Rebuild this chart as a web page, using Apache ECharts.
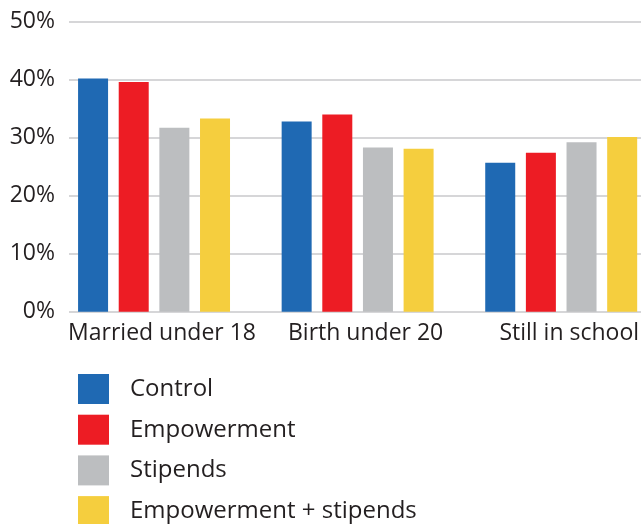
<!DOCTYPE html>
<html>
<head>
<meta charset="utf-8">
<script src="https://cdn.jsdelivr.net/npm/echarts@6/dist/echarts.min.js"></script>
<style>
html,body{margin:0;padding:0;background:#fff;overflow:hidden;width:641px;height:524px;}
#chart{width:663px;height:524px;}
</style>
</head>
<body>
<div id="chart"></div>
<script>
const categories = ['Married under 18', 'Birth under 20', 'Still in school'];
const seriesNames = ['Control', 'Empowerment', 'Stipends', 'Empowerment + stipends'];
const control = [40.2, 32.8, 25.7];
const empowerment = [39.6, 34.0, 27.4];
const stipends = [31.7, 28.3, 29.2];
const empStipends = [33.3, 28.1, 30.1];
const yTicks = [0, 10, 20, 30, 40, 50];
const colors = ['#1f69b3', '#ed1c24', '#bcbec0', '#f5ce3e'];

const values = [control, empowerment, stipends, empStipends];
const txt = '#231f20';
const font = '"Open Sans", "Noto Sans", sans-serif';

const chart = echarts.init(document.getElementById('chart'), null, {renderer: 'canvas'});
chart.setOption({
  animation: false,
  backgroundColor: '#fff',
  legend: {
    orient: 'vertical',
    left: 78,
    top: 374,
    height: 200,
    padding: 0,
    itemWidth: 31,
    itemHeight: 30,
    itemGap: 10.7,
    icon: 'rect',
    data: seriesNames,
    textStyle: {fontFamily: font, fontSize: 24, color: txt, padding: [0, 0, 0, 16]}
  },
  grid: [
    {left: 52.25, right: 0, top: 21.7, height: 290, containLabel: false},
    {left: 69, right: 22, top: 21.7, height: 290, containLabel: false}
  ],
  xAxis: [
    {
      type: 'category', gridIndex: 0, data: categories,
      axisLine: {show: false}, axisTick: {show: false},
      axisLabel: {fontFamily: font, fontSize: 23, color: txt, margin: 10, padding: [0, 0, 0, 16], interval: 0}
    },
    {type: 'value', gridIndex: 1, show: false, min: 0, max: 1}
  ],
  yAxis: [
    {type: 'value', gridIndex: 0, min: 0, max: 50, interval: 10, show: false},
    {
      type: 'value', gridIndex: 1, min: yTicks[0], max: yTicks[yTicks.length - 1], interval: 10,
      axisLine: {show: false}, axisTick: {show: false},
      splitLine: {lineStyle: {color: '#c8c9cb', width: 1.5}},
      axisLabel: {fontFamily: font, fontSize: 23, color: txt, margin: 14, formatter: v => v + '%'}
    }
  ],
  series: seriesNames.map((n, i) => ({
    name: n, type: 'bar', xAxisIndex: 0, yAxisIndex: 0,
    data: values[i], barWidth: 30, barGap: '35.5%',
    itemStyle: {color: colors[i]}
  }))
});
</script>
</body>
</html>
